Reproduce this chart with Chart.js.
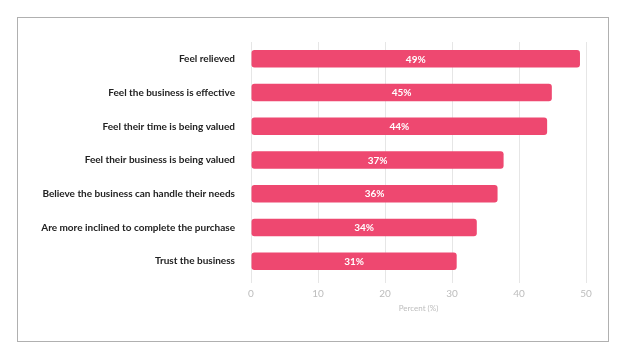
<!DOCTYPE html>
<html>
<head>
<meta charset="utf-8">
<script src="https://cdn.jsdelivr.net/npm/chart.js@4"></script>
<style>
  html, body { margin: 0; padding: 0; background: #fff; width: 640px; height: 360px; overflow: hidden; }
  #frame { position: absolute; left: 17px; top: 17px; width: 590px; height: 323px; border: 1px solid #b0b0b0; box-sizing: content-box; }
  #frame canvas { display: block; }
</style>
</head>
<body>
<div id="frame"><canvas id="c" width="590" height="323"></canvas></div>
<script>
const categories = [
  "Feel relieved",
  "Feel the business is effective",
  "Feel their time is being valued",
  "Feel their business is being valued",
  "Believe the business can handle their needs",
  "Are more inclined to complete the purchase",
  "Trust the business"
];
const values = [49.1, 44.9, 44.2, 37.7, 36.8, 33.7, 30.7];
const valueLabels = ["49%", "45%", "44%", "37%", "36%", "34%", "31%"];
const xTicks = [0, 10, 20, 30, 40, 50];
const xTitle = "Percent (%)";

const FONT = "Lato, 'Open Sans', sans-serif";

const barLabels = {
  id: 'barLabels',
  afterDatasetsDraw(chart) {
    const ctx = chart.ctx;
    const meta = chart.getDatasetMeta(0);
    ctx.save();
    ctx.fillStyle = '#ffffff';
    ctx.font = "bold 10px " + FONT;
    ctx.textAlign = 'center';
    ctx.textBaseline = 'middle';
    meta.data.forEach((el, i) => {
      ctx.fillText(valueLabels[i], (el.x + el.base) / 2, el.y + 0.5);
    });
    ctx.restore();
  }
};

new Chart(document.getElementById('c'), {
  type: 'bar',
  data: {
    labels: categories,
    datasets: [{
      data: values,
      backgroundColor: '#EE4870',
      borderRadius: 3,
      borderSkipped: false,
      barPercentage: 0.52,
      categoryPercentage: 1.0
    }]
  },
  options: {
    indexAxis: 'y',
    responsive: false,
    animation: false,
    layout: { padding: { top: 24, right: 22, bottom: 28, left: 0 } },
    plugins: { legend: { display: false }, tooltip: { enabled: false } },
    scales: {
      x: {
        min: 0, max: 50,
        afterBuildTicks(scale) { scale.ticks = xTicks.map(v => ({ value: v })); },
        afterFit(scale) { scale.height = 35; },
        grid: { color: '#e6e6e6', drawTicks: true, tickLength: 5, tickColor: '#e6e6e6', lineWidth: 1 },
        border: { display: false },
        ticks: { color: '#bdbdbd', font: { family: FONT, size: 10 }, padding: 5 },
        title: { display: true, text: xTitle, color: '#bdbdbd', font: { family: FONT, size: 8 }, padding: { top: 1, bottom: 0 } }
      },
      y: {
        afterFit(scale) { scale.width = 233; },
        grid: { display: false, drawTicks: false },
        border: { display: false },
        ticks: { color: '#222222', font: { family: FONT, size: 10, weight: 'bold' }, padding: 16 }
      }
    }
  },
  plugins: [barLabels]
});
</script>
</body>
</html>
